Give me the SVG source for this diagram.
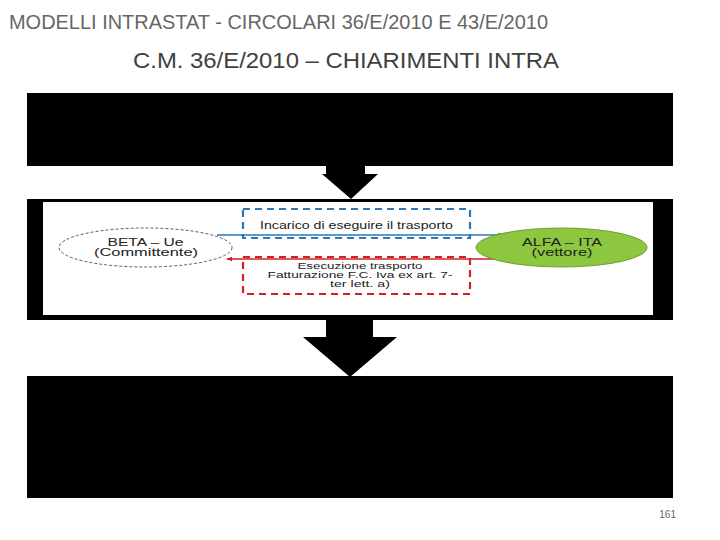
<svg xmlns="http://www.w3.org/2000/svg" width="720" height="540" viewBox="0 0 720 540">
<defs>
<style>
.t{font-family:"Liberation Sans",Arial,sans-serif}
.s{font-family:"Liberation Sans",Arial,sans-serif;font-size:10px;fill:#222}
.r{font-size:8.5px}
.blk{fill:#000}
</style>
<marker id="ab" viewBox="0 0 8 8" refX="7" refY="4" markerWidth="6" markerHeight="6" orient="auto" markerUnits="userSpaceOnUse"><path d="M0,1 L8,4 L0,7 z" fill="#2e75b6"/></marker>
<marker id="ar" viewBox="0 0 8 8" refX="7" refY="4" markerWidth="6" markerHeight="6" orient="auto" markerUnits="userSpaceOnUse"><path d="M0,1 L8,4 L0,7 z" fill="#d42020"/></marker>
</defs>
<rect width="720" height="540" fill="#fff"/>
<text class="t" x="9" y="29" font-size="20" fill="#666" textLength="539" lengthAdjust="spacingAndGlyphs">MODELLI INTRASTAT - CIRCOLARI 36/E/2010 E 43/E/2010</text>
<text class="t" x="133" y="68" font-size="22" fill="#404040" textLength="426" lengthAdjust="spacingAndGlyphs">C.M. 36/E/2010 – CHIARIMENTI INTRA</text>

<g id="box-top"><rect class="blk" x="27" y="93" width="646" height="73"/></g>
<g id="arrow-1"><path class="blk" d="M326,165 H365 V174 H378 L351,199 L322,174 H326 Z"/></g>
<g id="panel"><rect class="blk" x="27" y="199" width="646" height="121"/><rect x="43" y="202" width="610" height="113" fill="#fff"/></g>
<g id="arrow-2"><path class="blk" d="M326,320 H373 V337 H397 L350,377 L303,337 H326 Z"/></g>
<g id="box-bottom"><rect class="blk" x="27" y="376" width="646" height="122"/></g>

<g id="box-incarico">
<rect x="243" y="209" width="227" height="29" fill="none" stroke="#2e75b6" stroke-width="2.2" stroke-dasharray="7,5"/>
<text class="s" x="356.5" y="229" text-anchor="middle" textLength="193" lengthAdjust="spacingAndGlyphs">Incarico di eseguire il trasporto</text>
</g>
<g id="box-esecuzione">
<rect x="243" y="257" width="227" height="37" fill="none" stroke="#d42020" stroke-width="2.2" stroke-dasharray="7,5"/>
<text class="s r" x="360" y="268.5" text-anchor="middle" textLength="125" lengthAdjust="spacingAndGlyphs">Esecuzione trasporto</text>
<text class="s r" x="360" y="277.5" text-anchor="middle" textLength="185" lengthAdjust="spacingAndGlyphs">Fatturazione F.C. Iva ex art. 7-</text>
<text class="s r" x="360" y="286.5" text-anchor="middle" textLength="60" lengthAdjust="spacingAndGlyphs">ter lett. a)</text>
</g>
<g id="connectors">
<line x1="217" y1="235" x2="503" y2="235" stroke="#2e75b6" stroke-width="1.5" marker-end="url(#ab)"/>
<line x1="497" y1="259" x2="227" y2="259" stroke="#d42020" stroke-width="1.5" marker-end="url(#ar)"/>
</g>
<g id="node-beta">
<ellipse cx="145.5" cy="247.5" rx="86.5" ry="19.5" fill="#fff" stroke="#333" stroke-width="0.8" stroke-dasharray="3,2"/>
<text class="s" x="145.5" y="246" text-anchor="middle" textLength="76" lengthAdjust="spacingAndGlyphs">BETA – Ue</text>
<text class="s" x="146" y="256" text-anchor="middle" textLength="104" lengthAdjust="spacingAndGlyphs">(Committente)</text>
</g>
<g id="node-alfa">
<ellipse cx="561.5" cy="247.5" rx="85.5" ry="19.5" fill="#8dc63f" stroke="#6e9e35" stroke-width="1"/>
<text class="s" x="562" y="246" text-anchor="middle" textLength="80" lengthAdjust="spacingAndGlyphs">ALFA – ITA</text>
<text class="s" x="562" y="256" text-anchor="middle" textLength="61" lengthAdjust="spacingAndGlyphs">(vettore)</text>
</g>
<text class="t" x="676" y="518" font-size="10" fill="#666" text-anchor="end">161</text>
</svg>
